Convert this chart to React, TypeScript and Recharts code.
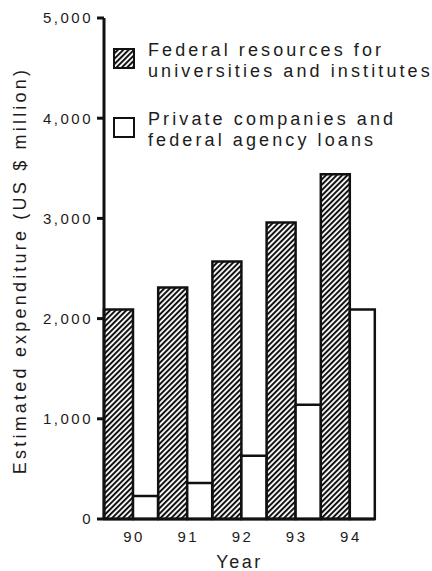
import { BarChart, Bar, XAxis, YAxis, Legend } from "recharts";

// estimated expenditure, US $ million
const years = ["90", "91", "92", "93", "94"];
const federal = [2090, 2310, 2570, 2960, 3440];
const privateLoans = [230, 360, 630, 1140, 2090];
const yTicks = [0, 1000, 2000, 3000, 4000, 5000];

const legendLines = [
  ["Federal resources for", "universities and institutes"],
  ["Private companies and", "federal agency loans"],
];

const data = years.map((year, i) => ({
  year,
  federal: federal[i],
  privateLoans: privateLoans[i],
}));

const font = "'Liberation Sans', Arial, Helvetica, sans-serif";
const ink = "#111";
const textColor = "#1c1c1c";

function HatchDef({ id }: { id: string }) {
  return (
    <pattern
      id={id}
      patternUnits="userSpaceOnUse"
      width={3.8}
      height={3.8}
      patternTransform="rotate(45)"
    >
      <rect width={3.8} height={3.8} fill="#fff" />
      <rect width={2} height={3.8} fill={ink} />
    </pattern>
  );
}

function renderLegend() {
  return (
    <div
      style={{
        fontFamily: font,
        fontSize: 18,
        letterSpacing: 3.1,
        lineHeight: "21px",
        color: textColor,
      }}
    >
      {legendLines.map((lines, i) => (
        <div
          key={i}
          style={{
            display: "flex",
            alignItems: "flex-start",
            marginBottom: i === 0 ? 27 : 0,
          }}
        >
          <svg width={22} height={21} style={{ marginTop: 8, flex: "none" }}>
            <defs>
              <HatchDef id="legend-hatch" />
            </defs>
            <rect
              x={1}
              y={1}
              width={20}
              height={19}
              fill={i === 0 ? "url(#legend-hatch)" : "#fff"}
              stroke={ink}
              strokeWidth={2}
            />
          </svg>
          <div style={{ marginLeft: 13, whiteSpace: "nowrap" }}>
            {lines[0]}
            <br />
            {lines[1]}
          </div>
        </div>
      ))}
    </div>
  );
}

export default function App() {
  return (
    <div style={{ position: "absolute", left: 0, top: 0, background: "#fff" }}>
      <BarChart
        width={432}
        height={571}
        data={data}
        margin={{ top: 18, right: 57, bottom: 0, left: 0 }}
        barCategoryGap={0}
        barGap={0}
      >
        <defs>
          <HatchDef id="bar-hatch" />
        </defs>
        <YAxis
          width={104}
          domain={[0, 5000]}
          ticks={yTicks}
          interval={0}
          tickFormatter={(v: number) => v.toLocaleString("en-US")}
          axisLine={{ stroke: ink, strokeWidth: 3 }}
          tickLine={{ stroke: ink, strokeWidth: 3 }}
          tickSize={7}
          tickMargin={4}
          tick={{ fill: textColor, fontSize: 15, fontFamily: font, letterSpacing: 2.5 }}
          label={{
            content: (props: any) => {
              const vb = props.viewBox;
              const x = vb.x + 26;
              const y = vb.y + vb.height / 2 + 2;
              return (
                <text
                  x={x}
                  y={y}
                  transform={`rotate(-90, ${x}, ${y})`}
                  textAnchor="middle"
                  fill={textColor}
                  fontSize={18}
                  fontFamily={font}
                  letterSpacing={3.2}
                >
                  Estimated expenditure (US $ million)
                </text>
              );
            },
          }}
        />
        <XAxis
          dataKey="year"
          height={52}
          axisLine={{ stroke: ink, strokeWidth: 3 }}
          tickLine={false}
          tickSize={0}
          tickMargin={12}
          tick={{ fill: textColor, fontSize: 15, fontFamily: font, letterSpacing: 2.5, dx: 3 }}
          label={{
            content: (props: any) => {
              const vb = props.viewBox;
              return (
                <text
                  x={vb.x + vb.width / 2}
                  y={vb.y + 49}
                  textAnchor="middle"
                  fill={textColor}
                  fontSize={18}
                  fontFamily={font}
                  letterSpacing={2.5}
                >
                  Year
                </text>
              );
            },
          }}
        />
        <Legend
          layout="horizontal"
          verticalAlign="middle"
          align="center"
          content={renderLegend}
          wrapperStyle={{ top: 40, left: 113, width: 319 }}
        />
        <Bar
          dataKey="federal"
          name="Federal resources for universities and institutes"
          fill="url(#bar-hatch)"
          stroke={ink}
          strokeWidth={2.5}
          barSize={29}
          isAnimationActive={false}
        />
        <Bar
          dataKey="privateLoans"
          name="Private companies and federal agency loans"
          fill="#fff"
          stroke={ink}
          strokeWidth={2.5}
          barSize={25}
          isAnimationActive={false}
        />
      </BarChart>
    </div>
  );
}
